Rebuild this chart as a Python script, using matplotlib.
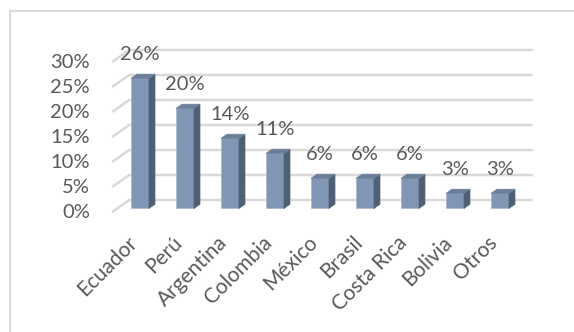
import matplotlib.pyplot as plt
from matplotlib.patches import Polygon

plt.rcParams['font.family'] = ['Lato', 'DejaVu Sans']

paises = ['Ecuador', 'Perú', 'Argentina', 'Colombia', 'México', 'Brasil',
          'Costa Rica', 'Bolivia', 'Otros']
porcentajes = [26, 20, 14, 11, 6, 6, 6, 3, 3]
ticks = [0, 5, 10, 15, 20, 25, 30]

# pseudo 3d: screen shift for full depth of the chart floor
DX = 0.38
DY = 2.4
front = 0.3   # depth of bar front face
prof = 0.35   # depth of the bar itself
w = 0.2

c_front = '#8096b4'
c_side = '#4f6075'
c_top = '#6b7f99'
c_text = '#595959'
fs = 14.5

fig = plt.figure(figsize=(5.74, 3.32), dpi=100)
ax = fig.add_axes([0, 0, 1, 1])
ax.set_xlim(-140 / 45, (574 - 140) / 45)
ax.set_ylim(-24, 42.4)
ax.axis('off')

# gridlines (slanted part on the side wall + back wall)
x0 = -0.62
x_end = 8.73
for t in ticks:
    ax.plot([x0, x0 + DX, x_end], [t, t + DY, t + DY], color='#d9d9d9',
            lw=1.8, solid_capstyle='butt', zorder=1)
    ax.text(-1.11, t, f'{t}%', ha='right', va='center', fontsize=fs,
            color=c_text)

sx = prof * DX
sy = prof * DY
for i, (p, v) in enumerate(zip(paises, porcentajes)):
    bx = i
    by = front * DY
    top = by + v
    # front face
    ax.add_patch(Polygon([(bx - w, by), (bx + w, by), (bx + w, top), (bx - w, top)],
                         closed=True, fc=c_front, ec='#a9b8cc', lw=0.5, zorder=3))
    # side face
    ax.add_patch(Polygon([(bx + w, by), (bx + w + sx, by + sy), (bx + w + sx, top + sy),
                          (bx + w, top)], closed=True, fc=c_side, ec=c_side, lw=0.5, zorder=3))
    # top face
    ax.add_patch(Polygon([(bx - w, top), (bx + w, top), (bx + w + sx, top + sy),
                          (bx - w + sx, top + sy)], closed=True, fc=c_top, ec=c_top,
                         lw=0.5, zorder=3))
    ax.text(bx, top + 4.7, f'{v}%', ha='center', va='center', fontsize=fs,
            color=c_text, zorder=4)
    ax.text(bx - 0.13, -5.5, p, ha='right', va='center', rotation=45,
            rotation_mode='anchor', fontsize=15, color=c_text)

# chart frame (only top and left edges visible)
fig.add_artist(plt.Line2D([10 / 574, 1], [1 - 11 / 332, 1 - 11 / 332],
                          color='#d9d9d9', lw=1.5))
fig.add_artist(plt.Line2D([10 / 574, 10 / 574], [0, 1 - 11 / 332],
                          color='#d9d9d9', lw=1.5))

fig.savefig('out.png', dpi=100)
